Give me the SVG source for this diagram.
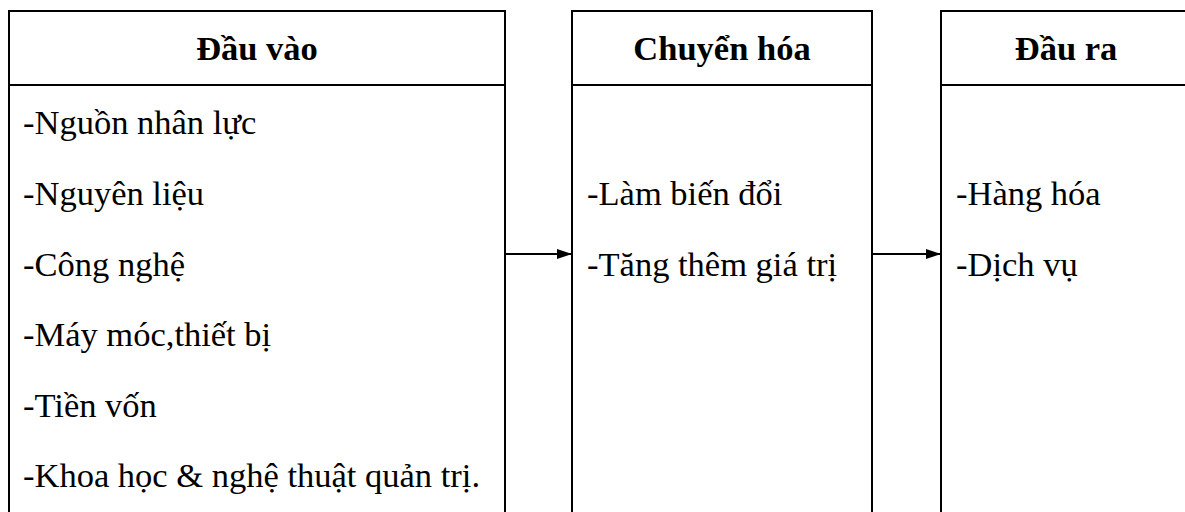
<svg xmlns="http://www.w3.org/2000/svg" width="1185" height="512" viewBox="0 0 1185 512">
  <style>
    .frame { fill: none; stroke: #000; stroke-width: 2; }
    .head { font-family: "Liberation Serif", "Times New Roman", serif; font-size: 34.5px; font-weight: bold; text-anchor: middle; fill: #000; }
    .item { font-family: "Liberation Serif", "Times New Roman", serif; font-size: 34.5px; fill: #000; }
    .link { stroke: #000; stroke-width: 2; fill: none; }
  </style>
  <defs>
    <marker id="arrow" viewBox="0 0 15 10" refX="15" refY="5" markerWidth="15" markerHeight="10" markerUnits="userSpaceOnUse" orient="auto">
      <path d="M0,0 L15,5 L0,10 Z" fill="#000"/>
    </marker>
  </defs>
  <rect width="1185" height="512" fill="#fff"/>

  <!-- Inputs column -->
  <g id="dau-vao">
    <path class="frame" d="M9,512 V10 M8,11 H506 M505,10 V512 M9,85 H505"/>
    <text class="head" x="257" y="60">Đầu vào</text>
    <text class="item" x="23" y="134">-Nguồn nhân lực</text>
    <text class="item" x="23" y="205">-Nguyên liệu</text>
    <text class="item" x="23" y="276">-Công nghệ</text>
    <text class="item" x="23" y="346">-Máy móc,thiết bị</text>
    <text class="item" x="23" y="417">-Tiền vốn</text>
    <text class="item" x="23" y="487">-Khoa học &amp; nghệ thuật quản trị.</text>
  </g>

  <!-- Transformation column -->
  <g id="chuyen-hoa">
    <path class="frame" d="M572,512 V10 M571,11 H873 M872,10 V512 M572,85 H872"/>
    <text class="head" x="722" y="60">Chuyển hóa</text>
    <text class="item" x="587" y="205">-Làm biến đổi</text>
    <text class="item" x="587" y="276">-Tăng thêm giá trị</text>
  </g>

  <!-- Outputs column -->
  <g id="dau-ra">
    <path class="frame" d="M941,512 V10 M940,11 H1185 M941,85 H1185"/>
    <text class="head" x="1066" y="60">Đầu ra</text>
    <text class="item" x="956" y="205">-Hàng hóa</text>
    <text class="item" x="956" y="276">-Dịch vụ</text>
  </g>

  <!-- Connectors -->
  <g id="connectors">
    <line class="link" x1="506" y1="254" x2="572" y2="254" marker-end="url(#arrow)"/>
    <line class="link" x1="873" y1="254" x2="941" y2="254" marker-end="url(#arrow)"/>
  </g>
</svg>
